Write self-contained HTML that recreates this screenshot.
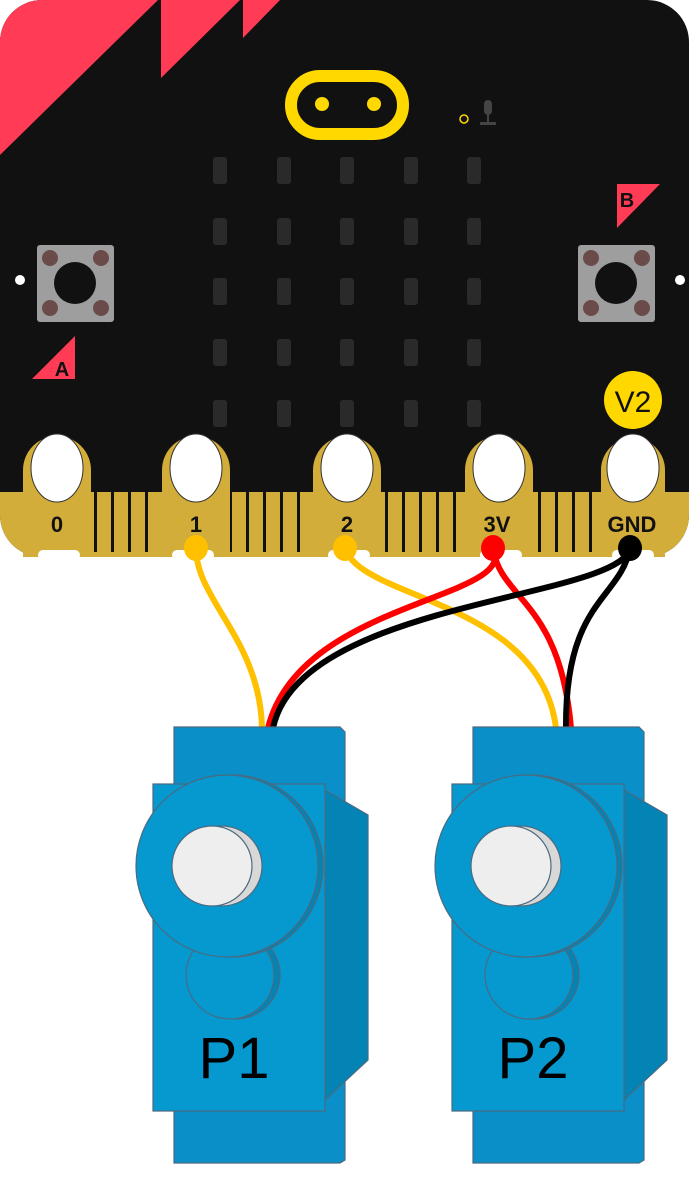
<!DOCTYPE html>
<html><head><style>
html,body{margin:0;padding:0;background:#fff;}
svg{display:block}
</style></head><body>
<svg width="699" height="1191" viewBox="0 0 699 1191" xmlns="http://www.w3.org/2000/svg">
<defs><clipPath id="bc"><rect x="0" y="0" width="689" height="557" rx="42"/></clipPath></defs>
<g clip-path="url(#bc)">
<rect x="0" y="0" width="689" height="557" fill="#111"/>
<polygon points="0,0 158,0 0,155" fill="#ff3b55"/>
<polygon points="161,0 240,0 161,78" fill="#ff3b55"/>
<polygon points="243,0 280,0 243,38" fill="#ff3b55"/>
<rect x="0" y="492" width="689" height="70" fill="#d3ad3a"/>
<g fill="#111">
<rect x="94" y="492" width="3" height="60"/><rect x="111" y="492" width="3" height="60"/><rect x="128" y="492" width="3" height="60"/><rect x="145" y="492" width="3" height="60"/>
<rect x="229" y="492" width="3" height="60"/><rect x="246" y="492" width="3" height="60"/><rect x="263" y="492" width="3" height="60"/><rect x="280" y="492" width="3" height="60"/><rect x="297" y="492" width="3" height="60"/>
<rect x="385" y="492" width="3" height="60"/><rect x="402" y="492" width="3" height="60"/><rect x="419" y="492" width="3" height="60"/><rect x="436" y="492" width="3" height="60"/><rect x="453" y="492" width="3" height="60"/>
<rect x="538" y="492" width="3" height="60"/><rect x="555" y="492" width="3" height="60"/><rect x="572" y="492" width="3" height="60"/><rect x="589" y="492" width="3" height="60"/>
</g>
</g>
<g fill="#d3ad3a">
<path d="M23 557 V470 a34 34 0 0 1 68 0 V557Z"/>
<path d="M162 557 V470 a34 34 0 0 1 68 0 V557Z"/>
<path d="M313 557 V470 a34 34 0 0 1 68 0 V557Z"/>
<path d="M465 557 V470 a34 34 0 0 1 68 0 V557Z"/>
<path d="M601 557 V470 a32 32 0 0 1 64 0 V557Z"/>
</g>
<g fill="#fff" stroke="#333" stroke-width="1">
<ellipse cx="57" cy="468" rx="26" ry="34"/><ellipse cx="196" cy="468" rx="26" ry="34"/><ellipse cx="347" cy="468" rx="26" ry="34"/><ellipse cx="499" cy="468" rx="26" ry="34"/><ellipse cx="633" cy="468" rx="26" ry="34"/>
</g>
<g fill="#fff"><rect x="38" y="550" width="42" height="10" rx="5"/><rect x="172" y="550" width="42" height="10" rx="5"/><rect x="328" y="550" width="42" height="10" rx="5"/><rect x="480" y="550" width="42" height="10" rx="5"/><rect x="612" y="550" width="42" height="10" rx="5"/></g>
<g font-family="Liberation Sans,sans-serif" font-weight="bold" font-size="22" text-anchor="middle" fill="#111">
<text x="57" y="532">0</text><text x="196" y="532">1</text><text x="347" y="532">2</text><text x="497" y="532">3V</text><text x="632" y="532">GND</text>
</g>
<g fill="#2a2a2a">
<rect x="213" y="157" width="14" height="27" rx="3"/><rect x="277" y="157" width="14" height="27" rx="3"/><rect x="340" y="157" width="14" height="27" rx="3"/><rect x="404" y="157" width="14" height="27" rx="3"/><rect x="467" y="157" width="14" height="27" rx="3"/>
<rect x="213" y="218" width="14" height="27" rx="3"/><rect x="277" y="218" width="14" height="27" rx="3"/><rect x="340" y="218" width="14" height="27" rx="3"/><rect x="404" y="218" width="14" height="27" rx="3"/><rect x="467" y="218" width="14" height="27" rx="3"/>
<rect x="213" y="278" width="14" height="27" rx="3"/><rect x="277" y="278" width="14" height="27" rx="3"/><rect x="340" y="278" width="14" height="27" rx="3"/><rect x="404" y="278" width="14" height="27" rx="3"/><rect x="467" y="278" width="14" height="27" rx="3"/>
<rect x="213" y="339" width="14" height="27" rx="3"/><rect x="277" y="339" width="14" height="27" rx="3"/><rect x="340" y="339" width="14" height="27" rx="3"/><rect x="404" y="339" width="14" height="27" rx="3"/><rect x="467" y="339" width="14" height="27" rx="3"/>
<rect x="213" y="400" width="14" height="27" rx="3"/><rect x="277" y="400" width="14" height="27" rx="3"/><rect x="340" y="400" width="14" height="27" rx="3"/><rect x="404" y="400" width="14" height="27" rx="3"/><rect x="467" y="400" width="14" height="27" rx="3"/>
</g>
<rect x="291" y="76" width="112" height="58" rx="29" fill="none" stroke="#ffd800" stroke-width="12"/>
<circle cx="322" cy="104" r="7" fill="#ffd800"/><circle cx="374" cy="104" r="7" fill="#ffd800"/>
<circle cx="464" cy="119" r="4" fill="none" stroke="#ffd800" stroke-width="1.5"/>
<rect x="484" y="100" width="8" height="15" rx="4" fill="#444"/><rect x="480" y="122" width="16" height="3" fill="#444"/><rect x="487" y="115" width="2" height="8" fill="#444"/>
<circle cx="20" cy="280" r="5" fill="#fff"/><circle cx="680" cy="280" r="5" fill="#fff"/>
<rect x="37" y="245" width="77" height="77" rx="3" fill="#9e9e9e"/><circle cx="75" cy="283" r="21" fill="#111"/>
<g fill="#6b4a4a"><circle cx="50" cy="258" r="8"/><circle cx="101" cy="258" r="8"/><circle cx="50" cy="308" r="8"/><circle cx="101" cy="308" r="8"/></g>
<rect x="578" y="245" width="77" height="77" rx="3" fill="#9e9e9e"/><circle cx="616" cy="283" r="21" fill="#111"/>
<g fill="#6b4a4a"><circle cx="591" cy="258" r="8"/><circle cx="642" cy="258" r="8"/><circle cx="591" cy="308" r="8"/><circle cx="642" cy="308" r="8"/></g>
<polygon points="32,379 75,379 75,336" fill="#ff3b55"/>
<text x="62" y="376" font-family="Liberation Sans,sans-serif" font-weight="bold" font-size="20" text-anchor="middle" fill="#111">A</text>
<polygon points="617,184 660,184 617,228" fill="#ff3b55"/>
<text x="627" y="207" font-family="Liberation Sans,sans-serif" font-weight="bold" font-size="20" text-anchor="middle" fill="#111">B</text>
<circle cx="633" cy="400" r="29" fill="#ffd800"/>
<text x="633" y="412" font-family="Liberation Sans,sans-serif" font-size="30" text-anchor="middle" fill="#111">V2</text>
<g fill="none" stroke-width="6" stroke-linecap="round">
<path d="M196 548 C196 600 260 640 262 728" stroke="#ffc000"/>
<path d="M345 548 C360 600 540 600 556 728" stroke="#ffc000"/>
<path d="M493 548 C520 600 300 600 268 728" stroke="#ff0000"/>
<path d="M493 548 C500 600 560 600 571 728" stroke="#ff0000"/>
<path d="M630 548 C620 600 300 600 273 728" stroke="#000"/>
<path d="M630 548 C620 600 565 600 566 728" stroke="#000"/>
</g>
<ellipse cx="196" cy="548" rx="12" ry="13" fill="#ffc000"/>
<ellipse cx="345" cy="548" rx="12" ry="13" fill="#ffc000"/>
<ellipse cx="493" cy="548" rx="12" ry="13" fill="#ff0000"/>
<ellipse cx="630" cy="548" rx="12" ry="13" fill="#000"/>
<g id="s1" stroke="#4a6a80" stroke-width="1.2">
<path d="M174 727 H340 L345 732 V1160 L340 1163 H174Z" fill="#0a8fc8"/>
<path d="M325 790 L368 815 V1060 L325 1100Z" fill="#0483b5"/>
<rect x="153" y="784" width="172" height="327" fill="#0599d0"/>
<circle cx="236" cy="975" r="44" fill="#0483b5"/>
<circle cx="230" cy="975" r="44" fill="#0599d0"/>
<circle cx="232" cy="866" r="91" fill="#0483b5"/>
<circle cx="227" cy="866" r="91" fill="#0599d0"/>
<circle cx="222" cy="866" r="40" fill="#d8d8d8"/>
<circle cx="212" cy="866" r="40" fill="#eeeeee"/>
</g>
<use href="#s1" x="299"/>
<g font-family="Liberation Sans,sans-serif" font-size="58" fill="#000" text-anchor="middle">
<text x="234" y="1078">P1</text><text x="533" y="1078">P2</text>
</g>
</svg>
</body></html>
